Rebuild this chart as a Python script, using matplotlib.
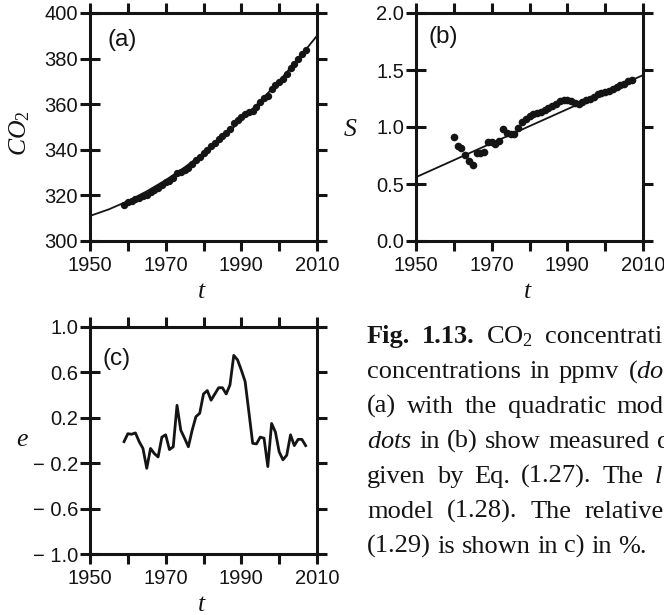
import numpy as np
import matplotlib.pyplot as plt
from matplotlib.ticker import MultipleLocator

plt.rcParams['font.family'] = 'Liberation Sans'
plt.rcParams['mathtext.fontset'] = 'custom'
plt.rcParams['mathtext.rm'] = 'Liberation Serif'
plt.rcParams['mathtext.it'] = 'Liberation Serif:italic'
plt.rcParams['mathtext.bf'] = 'Liberation Serif:bold'

INK = '#141414'

# annual mean CO2 (ppmv)
co2_years = np.arange(1959, 2008)
co2 = [315.98, 316.91, 317.64, 318.45, 318.99, 319.62, 320.04, 321.38, 322.16, 323.04,
       324.62, 325.68, 326.32, 327.45, 329.68, 330.18, 331.11, 332.04, 333.83, 335.40,
       336.84, 338.75, 340.11, 341.45, 343.05, 344.65, 346.12, 347.42, 349.19, 351.57,
       353.12, 354.39, 355.61, 356.45, 357.10, 358.83, 360.82, 362.61, 363.73, 366.70,
       368.38, 369.55, 371.14, 373.28, 375.80, 377.52, 379.80, 381.90, 383.79]

# quadratic model, tabulated every 5 years
fit_years = np.arange(1950, 2011, 5)
co2_fit = [311.0, 313.9, 317.5, 321.8, 326.7, 332.3, 338.5, 345.4, 353.0, 361.3,
           370.2, 379.8, 390.0]

# S from data and the linear model
s_years = np.arange(1960, 2008)
s_vals = [0.91, 0.83, 0.82, 0.755, 0.70, 0.67, 0.77, 0.77, 0.78, 0.87,
          0.87, 0.855, 0.88, 0.98, 0.95, 0.94, 0.94, 0.99, 1.04, 1.07,
          1.10, 1.11, 1.12, 1.13, 1.15, 1.17, 1.18, 1.20, 1.23, 1.24,
          1.24, 1.23, 1.21, 1.20, 1.22, 1.24, 1.25, 1.26, 1.29, 1.30,
          1.31, 1.32, 1.33, 1.35, 1.37, 1.38, 1.40, 1.41]
s_fit_years = [1950, 2010]
s_fit = [0.56, 1.455]

# relative error of the model, %
e_years = np.arange(1959, 2008)
e_vals = [-0.01, 0.06, 0.055, 0.067, -0.01, -0.07, -0.245, -0.07, -0.115, -0.145,
          0.03, 0.05, -0.08, -0.055, 0.31, 0.09, 0.02, -0.055, 0.09, 0.21,
          0.24, 0.41, 0.44, 0.355, 0.41, 0.465, 0.465, 0.41, 0.49, 0.75,
          0.71, 0.62, 0.52, 0.25, -0.025, -0.03, 0.03, 0.02, -0.23, 0.15,
          0.075, -0.10, -0.17, -0.13, 0.05, -0.045, 0.01, 0.01, -0.045]

xticks = [1950, 1970, 1990, 2010]
co2_ticks = [300, 320, 340, 360, 380, 400]
s_ticks = [0.0, 0.5, 1.0, 1.5, 2.0]
s_ticklabels = ['0.0', '0.5', '1.0', '1.5', '2.0']
e_ticks = [-1.0, -0.6, -0.2, 0.2, 0.6, 1.0]
e_ticklabels = ['\u2212 1.0', '\u2212 0.6', '\u2212 0.2', '0.2', '0.6', '1.0']

# caption words per line, and the x (px) where a justified line ends
caption = [
    (['Fig.', '1.13.', 'CO$_2$', 'concentrati'], 662),
    (['concentrations', 'in', 'ppmv', r'($\mathit{do}$'], 664),
    (['(a)', 'with', 'the', 'quadratic', 'mod'], 664),
    ([r'$\mathit{dots}$', 'in', '(b)', 'show', 'measured', 'd'], 670),
    (['given', 'by', 'Eq.', '(1.27).', 'The', r'$\mathit{l}$'], 663),
    (['model', '(1.28).', 'The', 'relative'], 664),
    (['(1.29)', 'is', 'shown', 'in', 'c)', 'in', '%.'], None),
]
bold_words = {'Fig.', '1.13.'}

W, H = 664, 615
fig = plt.figure(figsize=(W / 100, H / 100), dpi=100)


def box(left, top, right, bottom):
    return [left / W, 1 - bottom / H, (right - left) / W, (bottom - top) / H]


def style(ax, yticks, ylabels, ylim):
    ax.set_xlim(1950, 2010)
    ax.set_ylim(*ylim)
    ax.set_xticks(xticks)
    ax.xaxis.set_minor_locator(MultipleLocator(10))
    ax.set_yticks(yticks)
    ax.set_yticklabels(ylabels)
    for sp in ax.spines.values():
        sp.set_linewidth(2.2)
        sp.set_color(INK)
    ax.tick_params(which='both', direction='out', top=True, right=True,
                   length=7, width=2.2, color=INK, labelsize=14.5, labelcolor=INK)
    ax.tick_params(axis='x', pad=3.5)
    ax.tick_params(axis='y', pad=1.5)
    # left ticks cross the spine
    for tk in ax.yaxis.get_major_ticks():
        tk.tick1line.set_marker('_')
        tk.tick1line.set_markersize(14.4)


lab = dict(family='Liberation Serif', fontsize=18.5, color=INK)

# (a)
ax1 = fig.add_axes(box(90, 13, 317, 241))
ax1.plot(fit_years, co2_fit, color=INK, lw=1.3)
ax1.plot(co2_years, co2, 'o', color=INK, ms=5.3, mew=0)
style(ax1, co2_ticks, [str(v) for v in co2_ticks], (300, 400))
ax1.text(0.075, 0.88, '(a)', transform=ax1.transAxes, fontsize=17.5, va='center', color=INK)
ax1.text(-0.308, 0.471, r'$CO_2$', transform=ax1.transAxes, rotation=90,
         ha='center', va='center', **lab)
ax1.text(0.493, -0.25, r'$t$', transform=ax1.transAxes, ha='center', va='baseline', **lab)

# (b)
ax2 = fig.add_axes(box(416, 13, 643, 241))
ax2.plot(s_fit_years, s_fit, color=INK, lw=1.3)
ax2.plot(s_years, s_vals, 'o', color=INK, ms=5.5, mew=0)
style(ax2, s_ticks, s_ticklabels, (0, 2))
ax2.text(0.053, 0.895, '(b)', transform=ax2.transAxes, fontsize=17.5, va='center', color=INK)
ax2.text(-0.291, 0.487, r'$S$', transform=ax2.transAxes, ha='center', va='center', **lab)
ax2.text(0.493, -0.25, r'$t$', transform=ax2.transAxes, ha='center', va='baseline', **lab)

# (c)
ax3 = fig.add_axes(box(90, 327, 317, 554))
ax3.plot(e_years, e_vals, color=INK, lw=2.0)
style(ax3, e_ticks, e_ticklabels, (-1, 1))
ax3.text(0.053, 0.859, '(c)', transform=ax3.transAxes, fontsize=17.5, va='center', color=INK)
ax3.text(-0.297, 0.502, r'$e$', transform=ax3.transAxes, ha='center', va='center', **lab)
ax3.text(0.493, -0.251, r'$t$', transform=ax3.transAxes, ha='center', va='baseline', **lab)

# caption beside panel (c), justified word by word
renderer = fig.canvas.get_renderer()
x0 = 367
for i, (words, right) in enumerate(caption):
    y = 1 - (343 + 35 * i) / H
    texts = [fig.text(0, y, w, family='Liberation Serif', fontsize=19, va='baseline',
                      weight='bold' if w in bold_words else 'normal', color=INK)
             for w in words]
    widths = [t.get_window_extent(renderer).width for t in texts]
    if right is None:
        gap = 0.25 * 19 * 100 / 72
    else:
        gap = (right - x0 - sum(widths)) / (len(words) - 1)
    x = x0
    for t, w in zip(texts, widths):
        t.set_x(x / W)
        x += w + gap

fig.savefig('out.png', dpi=100)
